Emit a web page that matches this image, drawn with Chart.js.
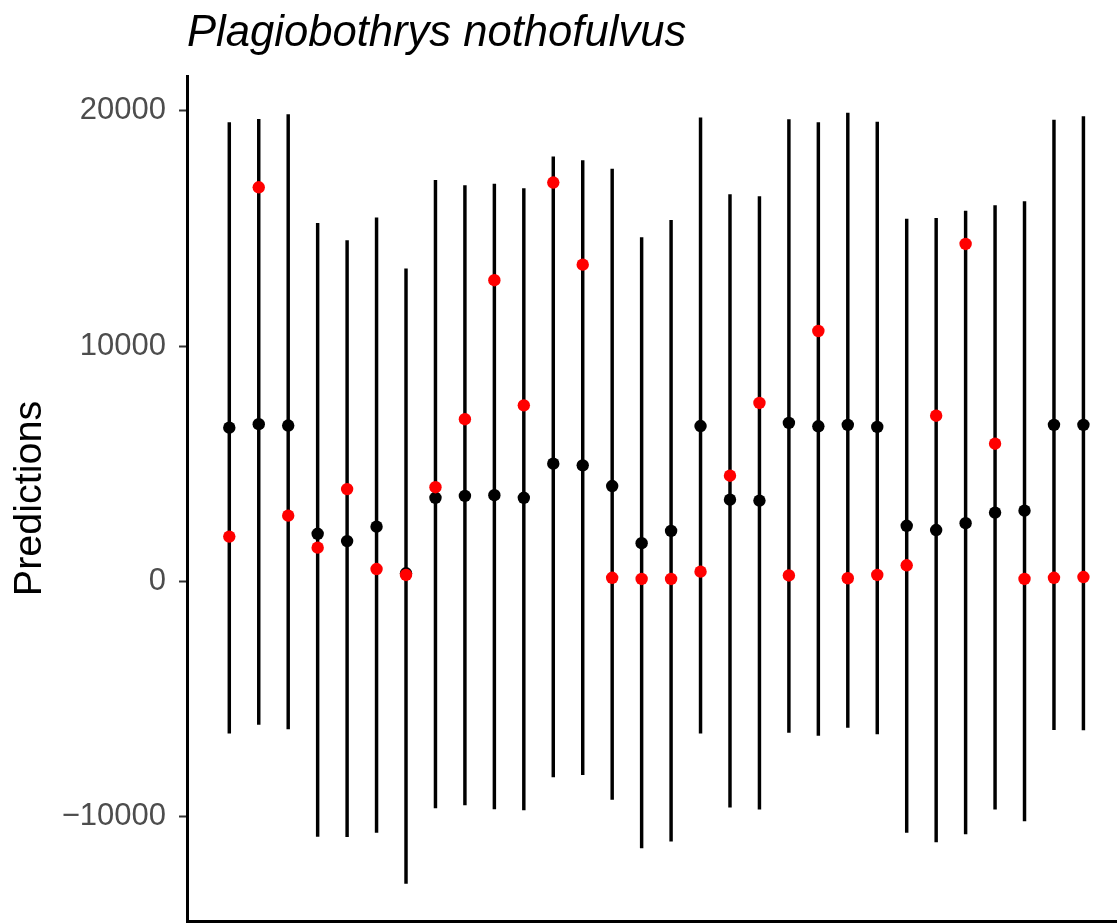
<!DOCTYPE html>
<html>
<head>
<meta charset="utf-8">
<title>Plagiobothrys nothofulvus</title>
<script src="https://cdn.jsdelivr.net/npm/chart.js@4.4.1/dist/chart.umd.min.js"></script>
<style>
  html, body { margin: 0; padding: 0; background: #fff; }
  #wrap { width: 1117px; height: 923px; }
</style>
</head>
<body>
<div id="wrap"><canvas id="chart" width="1117" height="923"></canvas></div>
<script>
// Site-level predictions: interval bounds, mean prediction and observed value
const UPPER = [19500, 19640, 19840, 15220, 14480, 15450, 13280, 17050, 16820, 16890,
               16690, 18040, 17880, 17520, 14610, 15350, 19700, 16440, 16350, 19630,
               19500, 19900, 19520, 15400, 15430, 15740, 15970, 16140, 19610, 19750];
const LOWER = [-6460, -6080, -6280, -10840, -10860, -10670, -12840, -9630, -9510, -9680,
               -9720, -8320, -8220, -9270, -11330, -11050, -6460, -9600, -9690, -6420,
               -6550, -6210, -6490, -10670, -11080, -10740, -9690, -10190, -6310, -6320];
const PREDICTED = [6530, 6680, 6620, 2020, 1710, 2320, 340, 3550, 3630, 3660,
                   3550, 5000, 4930, 4050, 1620, 2140, 6600, 3470, 3430, 6730,
                   6590, 6650, 6560, 2360, 2180, 2470, 2920, 3000, 6650, 6650];
const OBSERVED = [1900, 16750, 2790, 1430, 3920, 520, 270, 4000, 6890, 12800,
                  7480, 16950, 13460, 150, 100, 100, 410, 4490, 7580, 250,
                  10640, 130, 270, 680, 7040, 14340, 5850, 100, 150, 180];
const Y_TICKS = [-10000, 0, 10000, 20000];
const TITLE = 'Plagiobothrys nothofulvus';

const SANS = '"Liberation Sans", Arial, Helvetica, sans-serif';

const positions = UPPER.map((_, i) => i + 1);

// title sits flush with the left edge of the plotting panel
const panelTitle = {
    id: 'panelTitle',
    afterDraw(chart) {
        const { ctx, chartArea } = chart;
        ctx.save();
        ctx.font = 'italic 43.6px ' + SANS;
        ctx.fillStyle = '#000';
        ctx.textAlign = 'left';
        ctx.textBaseline = 'alphabetic';
        ctx.fillText(TITLE, chartArea.left, 46);
        ctx.restore();
    }
};

new Chart(document.getElementById('chart'), {
    type: 'bar',
    data: {
        datasets: [
            {
                type: 'scatter',
                label: 'Observed',
                data: positions.map((x, i) => ({ x, y: OBSERVED[i] })),
                backgroundColor: '#ff0000',
                borderWidth: 0,
                pointRadius: 6.2,
                order: 0
            },
            {
                type: 'scatter',
                label: 'Predicted',
                data: positions.map((x, i) => ({ x, y: PREDICTED[i] })),
                backgroundColor: '#000000',
                borderWidth: 0,
                pointRadius: 6.2,
                order: 1
            },
            {
                type: 'bar',
                label: 'Interval',
                data: positions.map((x, i) => ({ x, y: [LOWER[i], UPPER[i]] })),
                backgroundColor: '#000000',
                borderWidth: 0,
                barThickness: 2.8,
                grouped: false,
                order: 2
            }
        ]
    },
    options: {
        responsive: false,
        devicePixelRatio: 1,
        animation: false,
        layout: { autoPadding: false, padding: { top: 76, right: 0, bottom: 2, left: 0 } },
        plugins: {
            legend: { display: false },
            tooltip: { enabled: false }
        },
        scales: {
            x: {
                type: 'linear',
                offset: false,
                min: -0.436,
                max: 31.14,
                afterFit(scale) {
                    scale.height = 0;
                    scale.paddingLeft = scale.paddingRight = 0;
                },
                grid: { display: true, drawOnChartArea: false, drawTicks: false },
                border: { display: true, color: '#000', width: 3 },
                ticks: { display: false }
            },
            y: {
                min: -14440,
                max: 21480,
                afterFit(scale) {
                    scale.width = 187;
                    scale.paddingTop = scale.paddingBottom = 0;
                },
                afterBuildTicks(scale) {
                    scale.ticks = Y_TICKS.map(v => ({ value: v }));
                },
                grid: {
                    drawOnChartArea: false,
                    drawTicks: true,
                    tickLength: 8,
                    tickWidth: 2,
                    tickColor: '#333333'
                },
                border: { display: true, color: '#000', width: 3 },
                ticks: {
                    padding: 13,
                    color: '#4d4d4d',
                    font: { family: SANS, size: 31 },
                    callback: v => (v < 0 ? '\u2212' + Math.abs(v) : String(v))
                },
                title: {
                    display: true,
                    text: 'Predictions',
                    color: '#000',
                    font: { family: SANS, size: 39.5 },
                    padding: { top: 6, bottom: 0 }
                }
            }
        }
    },
    plugins: [panelTitle]
});
</script>
</body>
</html>
